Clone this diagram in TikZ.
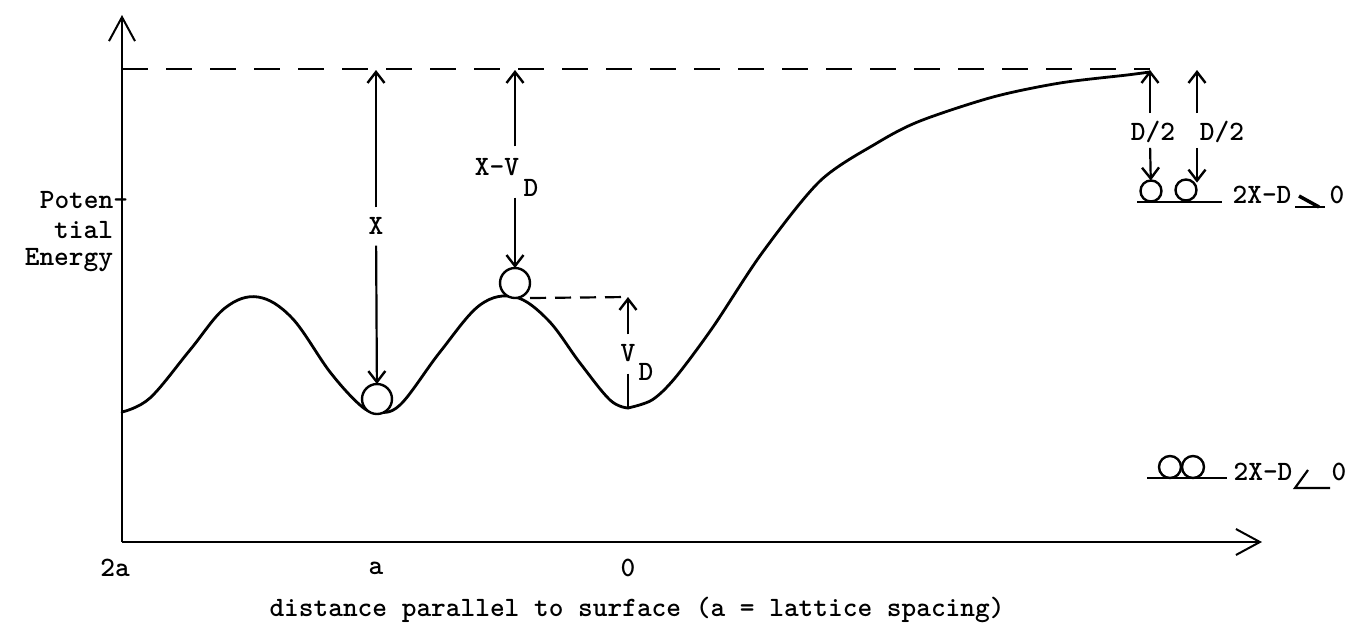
\documentclass[tikz,border=0pt]{standalone}
\usetikzlibrary{arrows.meta}
\begin{document}
\begin{tikzpicture}[x=1pt,y=-1pt,
  lbl/.style={font=\ttfamily\bfseries\fontsize{28}{30}\selectfont, inner sep=0pt, outer sep=0pt},
  curve/.style={line width=2.8pt, line cap=round, line join=round},
  dim/.style={line width=2.2pt, -{Straight Barb[length=11pt,width=17pt,line width=2.4pt]}},
  plain/.style={line width=2.2pt},
  axis/.style={line width=2pt, -{Straight Barb[length=24pt,width=26pt,line width=2pt]}},
  dashA/.style={line width=2.2pt, dash pattern=on 26pt off 18pt},
  dashB/.style={line width=2.2pt, dash pattern=on 16pt off 9pt},
  ball/.style={circle, draw, line width=2.4pt, fill=white, minimum size=30pt, inner sep=0pt, outer sep=0pt},
  sball/.style={circle, draw, line width=2.4pt, minimum size=21pt, inner sep=0pt, outer sep=0pt},
]
\useasboundingbox (0,0) rectangle (1349,622);

% axes
\coordinate (O) at (122,542);
\coordinate (ytip) at (122,15);
\coordinate (xtip) at (1262,542);
\draw[axis] (O) -- (ytip);
\draw[axis] (O) -- (xtip);

% top dashed level
\coordinate (dl) at (122,69);
\coordinate (dr) at (1150,69);
\draw[dashA] (dl) -- (dr);

% potential curve
\draw[curve] plot[smooth, tension=0.6] coordinates {(122,412) (150,398) (190,350) (225,308) (258,297) (292,318) (330,372) (360,405) (376,412) (400,405) (440,352) (480,305) (515,297) (548,320) (580,363) (610,400) (628,408)};
\draw[curve] plot[smooth, tension=0.5] coordinates {(628,408) (652,400) (675,378) (713,327) (762,253) (820,181) (877,143) (920,121) (993,97) (1060,83) (1127,75) (1150,72)};

% balls on the surface
\node[ball] (ballA) at (377,399) {};
\node[ball] (ballB) at (515,283) {};

% X arrow
\coordinate (xtop) at (376,70);
\node[lbl] (X) at (376,226) {X};
\draw[dim, shorten <=10pt] (X) -- (xtop);
\draw[dim, shorten <=11pt] (X) -- (ballA);

% X - V_D arrow
\coordinate (xvtop) at (515,70);
\node[lbl] (XV) at (497,167) {X-V};
\node[lbl] (D1) at (531,188) {D};
\draw[dim, shorten <=12pt] (XV.north -| xvtop) -- (xvtop);
\draw[dim, shorten <=1pt] (D1.south -| xvtop) -- (ballB);

% V_D
\coordinate (vdtop) at (628,297);
\coordinate (min0) at (628,408);
\draw[dashB] (ballB.south -| ballB.east) -- (vdtop);
\node[lbl] (V) at (628,353) {V};
\node[lbl] (D2) at (646,372) {D};
\draw[dim, shorten <=10pt] (V) -- (vdtop);
\draw[plain, shorten <=12pt] (V) -- (min0);

% separated pair
\node[sball] (ballC) at (1151,191) {};
\node[sball] (ballD) at (1186,190) {};
\coordinate (ulA1) at (1137,202);
\coordinate (ulA2) at (1222,202);
\draw[plain] (ulA1) -- (ulA2);
\coordinate (ta) at (1150,70);
\coordinate (tb) at (1197,70);
\node[lbl] (d2a) at (1153,132) {D/2};
\node[lbl] (d2b) at (1222,132) {D/2};
\draw[dim, shorten <=8pt] (d2a.north -| ta) -- (ta);
\draw[dim, shorten <=5pt] (d2a.south -| ta) -- (ballC);
\draw[dim, shorten <=8pt] (d2b.north -| tb) -- (tb);
\draw[dim, shorten <=5pt] (d2b.south -| tb) -- (ballD.north east -| tb);
\node[lbl] (condA) at (1262,195) {2X-D};
\node[lbl] (zeroA) at (1337,195) {0};
\coordinate (mA1) at (1299,196);
\coordinate (mA2) at (1319,207);
\coordinate (mA3) at (1295,207);
\coordinate (mA4) at (1325,207);
\draw[line width=3.5pt] (mA1) -- (mA2);
\draw[plain] (mA3) -- (mA4);

% bound pair
\node[sball, minimum size=22pt] (ballE) at (1170,467) {};
\node[sball, minimum size=22pt] (ballF) at (1193,467) {};
\coordinate (ulB1) at (1147,478);
\coordinate (ulB2) at (1227,478);
\draw[plain] (ulB1) -- (ulB2);
\node[lbl] (condB) at (1263,472) {2X-D};
\node[lbl] (zeroB) at (1339,472) {0};
\coordinate (mB1) at (1308,470);
\coordinate (mB2) at (1295,488);
\coordinate (mB3) at (1330,488);
\draw[plain] (mB1) -- (mB2) -- (mB3);

% axis labels
\node[lbl, anchor=base east] (p1) at (128,208) {Poten-};
\node[lbl, anchor=base east] (p2) at (113,238) {tial};
\node[lbl, anchor=base east] (p3) at (113,265) {Energy};
\node[lbl] (t2a) at (115,568) {2a};
\node[lbl] (ta1) at (376,568) {a};
\node[lbl] (t0) at (628,568) {0};
\node[lbl] (xlab) at (637,610) {distance parallel to surface (a = lattice spacing)};
\end{tikzpicture}
\end{document}
